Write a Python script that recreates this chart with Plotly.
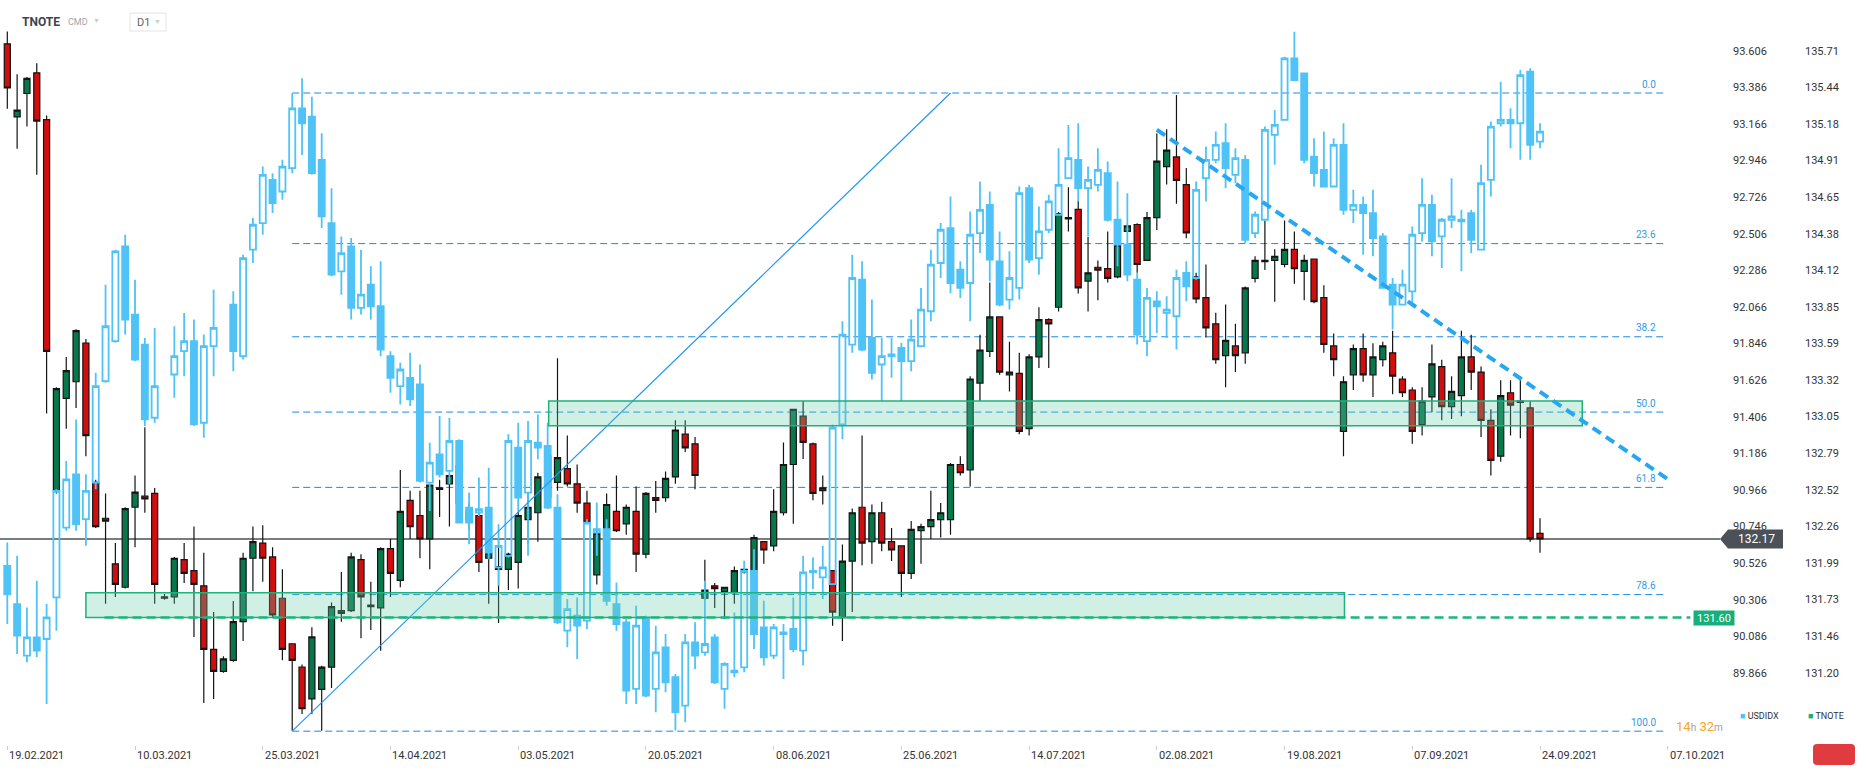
import plotly.graph_objects as go

# ---------------- data ----------------
date_labels = ["19.02.2021", "10.03.2021", "25.03.2021", "14.04.2021", "03.05.2021",
               "20.05.2021", "08.06.2021", "25.06.2021", "14.07.2021", "02.08.2021",
               "19.08.2021", "07.09.2021", "24.09.2021", "07.10.2021"]
date_label_idx = [0, 13, 26, 39, 52, 65, 78, 91, 104, 117, 130, 143, 156, 169]

tnote_open = [135.76, 135.23, 135.40, 135.55, 135.21, 132.52, 133.19, 133.31, 133.59, 132.58,
              132.32, 131.99, 131.82, 132.40, 132.48, 132.50, 131.75, 131.75, 132.02, 131.94,
              131.83, 131.37, 131.21, 131.29, 131.57, 132.03, 132.14, 132.04, 131.74, 131.41,
              131.24, 131.01, 131.08, 131.24, 131.65, 131.65, 132.02, 131.69, 131.67, 132.10,
              131.87, 132.45, 132.34, 132.17, 132.54, 132.57, 132.43, 132.37, 132.34, 132.03,
              131.97, 131.95, 132.00, 132.31, 132.36, 132.47, 132.58, 132.68, 132.57, 132.43,
              131.91, 132.24, 132.37, 132.28, 132.37, 132.06, 132.47, 132.47, 132.62, 132.93,
              132.86, 131.74, 131.83, 131.79, 131.78, 131.95, 131.94, 132.15, 132.12, 132.36,
              132.71, 133.06, 132.86, 132.52, 131.94, 131.60, 132.01, 132.40, 132.15, 132.36,
              132.15, 132.12, 131.92, 132.23, 132.26, 132.31, 132.31, 132.71, 132.67, 133.30,
              133.53, 133.78, 133.36, 133.37, 132.97, 133.49, 133.76, 133.85, 134.50, 134.56,
              134.04, 134.14, 134.13, 134.07, 134.40, 134.45, 134.19, 134.50, 134.87, 134.94,
              134.74, 134.07, 133.92, 133.73, 133.50, 133.57, 133.52, 134.06, 134.19, 134.19,
              134.16, 134.27, 134.11, 134.20, 133.92, 133.57, 132.95, 133.36, 133.55, 133.36,
              133.47, 133.52, 133.33, 133.25, 133.00, 133.20, 133.42, 133.13, 133.21, 133.49,
              133.38, 133.03, 132.77, 133.23, 133.16, 133.12, 132.21]
tnote_high = [135.85, 135.54, 135.52, 135.62, 135.24, 133.27, 133.49, 133.69, 133.62, 132.60,
              132.50, 132.14, 132.40, 132.63, 132.98, 132.54, 131.77, 132.04, 132.14, 132.26,
              132.07, 131.64, 131.32, 131.72, 132.07, 132.26, 132.27, 132.11, 131.95, 131.41,
              131.26, 131.53, 131.25, 131.71, 131.93, 132.07, 132.06, 131.86, 132.11, 132.17,
              132.67, 132.52, 132.52, 132.56, 132.60, 132.64, 132.80, 132.43, 132.37, 132.15,
              132.17, 132.07, 132.37, 132.51, 132.65, 132.82, 133.48, 132.92, 132.71, 132.52,
              132.25, 132.50, 132.63, 132.42, 132.55, 132.51, 132.59, 132.66, 133.03, 133.03,
              132.91, 132.02, 131.85, 131.82, 131.97, 131.96, 132.20, 132.15, 132.53, 132.87,
              133.11, 133.17, 132.87, 132.63, 131.94, 132.13, 132.39, 132.92, 132.42, 132.44,
              132.25, 132.12, 132.30, 132.28, 132.52, 132.43, 132.72, 132.77, 133.35, 133.65,
              134.03, 133.78, 133.60, 133.52, 133.51, 133.85, 133.77, 134.54, 134.72, 134.62,
              134.36, 134.19, 134.40, 134.40, 134.45, 134.46, 134.54, 135.11, 135.14, 135.39,
              134.86, 134.10, 134.16, 133.81, 133.87, 133.73, 134.00, 134.22, 134.48, 134.27,
              134.48, 134.40, 134.23, 134.20, 134.01, 133.66, 133.35, 133.58, 133.66, 133.59,
              133.60, 133.68, 133.35, 133.27, 133.27, 133.58, 133.47, 133.35, 133.68, 133.65,
              133.42, 133.11, 133.32, 133.32, 133.35, 133.17, 132.32]
tnote_low = [135.29, 135.00, 135.16, 134.81, 133.08, 132.50, 132.97, 133.12, 132.77, 132.25,
             131.70, 131.75, 131.81, 132.11, 132.36, 131.70, 131.73, 131.70, 131.85, 131.46,
             130.98, 131.01, 131.20, 131.28, 131.43, 131.79, 131.86, 131.60, 131.29, 130.78,
             130.90, 130.90, 130.78, 131.09, 131.57, 131.64, 131.45, 131.51, 131.36, 131.75,
             131.82, 132.17, 132.03, 131.95, 132.33, 132.26, 132.37, 132.24, 131.93, 131.70,
             131.56, 131.80, 131.81, 132.13, 132.15, 132.42, 132.52, 132.55, 132.36, 132.28,
             131.84, 132.23, 132.22, 132.20, 131.93, 132.03, 132.36, 132.44, 132.57, 132.80,
             132.53, 131.73, 131.67, 131.59, 131.70, 131.92, 131.93, 131.99, 132.08, 132.34,
             132.28, 132.75, 132.45, 132.42, 131.54, 131.43, 131.64, 131.98, 131.99, 132.08,
             132.01, 131.75, 131.88, 131.99, 132.17, 132.18, 132.20, 132.63, 132.55, 133.17,
             133.49, 133.36, 133.24, 132.93, 132.92, 133.41, 133.41, 133.82, 134.40, 133.95,
             133.82, 133.90, 134.03, 134.06, 134.40, 134.10, 134.19, 134.41, 134.74, 134.60,
             134.35, 133.88, 133.63, 133.44, 133.27, 133.38, 133.44, 134.03, 134.12, 133.89,
             134.14, 134.02, 133.90, 133.88, 133.52, 133.35, 132.77, 133.25, 133.31, 133.20,
             133.42, 133.22, 133.20, 132.86, 132.92, 133.09, 133.03, 133.04, 133.06, 133.25,
             132.91, 132.63, 132.73, 132.92, 132.90, 132.15, 132.07]
tnote_close = [135.44, 135.28, 135.51, 135.20, 133.53, 133.26, 133.39, 133.68, 132.92, 132.26,
               132.30, 131.84, 132.39, 132.51, 132.46, 131.84, 131.74, 132.03, 131.92, 131.84,
               131.37, 131.21, 131.30, 131.57, 132.03, 132.15, 132.03, 131.62, 131.37, 131.29,
               130.94, 131.46, 131.24, 131.68, 131.63, 132.04, 131.75, 131.68, 132.10, 131.92,
               132.37, 132.26, 132.17, 132.56, 132.53, 132.63, 132.70, 132.31, 132.00, 132.07,
               131.95, 132.06, 132.34, 132.40, 132.62, 132.77, 132.76, 132.57, 132.43, 132.29,
               132.21, 132.42, 132.23, 132.40, 132.06, 132.50, 132.45, 132.61, 132.96, 132.83,
               132.63, 131.80, 131.81, 131.82, 131.94, 131.93, 132.18, 132.09, 132.37, 132.71,
               133.11, 132.87, 132.50, 132.54, 131.64, 132.01, 132.36, 132.14, 132.36, 132.14,
               132.09, 131.92, 132.24, 132.26, 132.31, 132.36, 132.71, 132.65, 133.33, 133.54,
               133.78, 133.38, 133.38, 132.95, 133.49, 133.76, 133.73, 134.53, 134.49, 133.99,
               134.10, 134.12, 134.06, 134.30, 134.44, 134.16, 134.50, 134.91, 134.99, 134.77,
               134.39, 133.91, 133.70, 133.47, 133.61, 133.50, 133.99, 134.19, 134.18, 134.22,
               134.27, 134.13, 134.19, 133.89, 133.58, 133.47, 133.31, 133.55, 133.36, 133.49,
               133.57, 133.35, 133.23, 132.95, 133.17, 133.44, 133.13, 133.24, 133.49, 133.38,
               133.03, 132.74, 133.21, 133.14, 133.17, 132.17, 132.17]

N = None
usd_open = [90.51, 90.28, 89.97, 90.08, 90.07, 90.32, 90.74, 91.06, 90.79, 91.01,
            91.62, 91.86, 92.43, 92.02, 91.84, 91.40, N, 91.66, 91.80, 91.86,
            91.37, 91.83, N, 92.08, 91.77, 92.41, 92.57, 92.83, 92.76, 92.90,
            93.26, 93.21, 92.95, 92.57, 92.28, 92.43, 92.06, 92.20, 92.07, 91.77,
            91.59, 91.64, 91.60, 91.01, 91.18, 91.08, 91.26, 90.86, 90.83, 90.86,
            90.50, 90.57, 91.22, 90.95, 91.25, 91.23, 90.86, 90.12, 90.21, 90.18,
            90.71, 90.73, 90.28, 90.17, 89.77, 90.20, 89.77, 90.02, 89.84, 89.67,
            90.05, 89.99, 90.08, 89.77, 89.88, 89.90, 90.48, 90.14, 89.97, 90.11,
            90.13, 90.00, 90.47, 90.44, 90.40, 91.36, 91.84, 92.23, 91.88, 91.72,
            91.77, 91.82, 91.74, 91.83, 92.04, 92.33, 92.54, 92.29, 92.21, 92.51,
            92.68, 92.34, 92.11, 92.18, 92.78, 92.36, 92.53, 92.62, 92.84, 92.95,
            92.78, 92.80, 92.87, 92.59, 92.44, 92.23, 91.86, 92.10, 92.03, 92.01,
            92.27, 92.24, 92.84, 92.95, 93.05, 92.86, 92.95, 92.51, 92.59, 93.10,
            93.19, 93.56, 93.47, 92.97, 92.89, 92.79, 93.04, 92.65, 92.68, 92.63,
            92.49, 92.20, 92.08, 92.16, 92.51, 92.68, 92.49, 92.59, 92.59, 92.63,
            92.41, 92.83, 93.17, 93.19, 93.17, 93.48, 93.06]
usd_high = [90.65, 90.57, 90.26, 90.42, 90.28, 90.97, 91.14, 91.39, 91.06, 91.67,
            92.20, 92.41, 92.50, 92.23, 91.88, 91.94, N, 91.95, 92.03, 91.99,
            91.90, 92.17, N, 92.16, 92.38, 92.60, 92.91, 92.87, 92.95, 93.35,
            93.44, 93.33, 93.11, 92.78, 92.49, 92.48, 92.41, 92.31, 92.34, 91.80,
            91.73, 91.79, 91.72, 91.25, 91.41, 91.40, 91.27, 90.95, 91.04, 91.10,
            90.76, 91.30, 91.37, 91.38, 91.42, 91.37, 90.94, 90.31, 90.32, 90.79,
            90.89, 90.79, 90.41, 90.19, 90.27, 90.21, 90.15, 90.10, 89.86, 90.10,
            90.17, 90.42, 90.10, 89.93, 90.23, 90.54, 90.61, 90.30, 90.16, 90.16,
            90.32, 90.57, 90.56, 90.63, 91.36, 91.98, 92.38, 92.34, 92.11, 91.88,
            91.88, 91.85, 91.99, 92.18, 92.41, 92.57, 92.73, 92.34, 92.64, 92.82,
            92.76, 92.52, 92.40, 92.79, 92.80, 92.67, 92.74, 93.02, 93.16, 93.17,
            92.91, 93.02, 92.94, 92.82, 92.75, 92.27, 92.18, 92.16, 92.13, 92.29,
            92.34, 92.82, 93.03, 93.12, 93.17, 93.02, 92.98, 92.64, 93.15, 93.25,
            93.57, 93.72, 93.47, 93.08, 93.12, 93.08, 93.17, 92.77, 92.73, 92.77,
            92.51, 92.24, 92.29, 92.55, 92.84, 92.74, 92.60, 92.84, 92.65, 92.65,
            92.92, 93.18, 93.42, 93.26, 93.49, 93.50, 93.17]
usd_low = [90.16, 89.98, 89.93, 89.96, 89.68, 90.12, 90.72, 90.72, 90.63, 90.97,
           91.61, 91.85, 91.90, 91.74, 91.35, 91.37, N, 91.52, 91.65, 91.35,
           91.28, 91.65, N, 91.68, 91.75, 92.33, 92.50, 92.63, 92.71, 92.87,
           92.98, 92.86, 92.54, 92.25, 92.14, 91.99, 92.02, 91.99, 91.77, 91.55,
           91.48, 91.47, 91.01, 90.84, 91.04, 91.00, 90.77, 90.64, 90.81, 90.55,
           90.39, 90.56, 90.84, 90.57, 91.15, 90.85, 90.16, 90.02, 89.95, 90.13,
           90.57, 90.27, 90.12, 89.68, 89.68, 89.72, 89.63, 89.75, 89.52, 89.57,
           89.89, 89.97, 89.80, 89.65, 89.84, 89.87, 90.01, 89.91, 89.95, 89.83,
           89.99, 89.91, 90.37, 90.31, 90.40, 91.27, 91.79, 91.80, 91.63, 91.50,
           91.64, 91.50, 91.68, 91.83, 91.98, 92.24, 92.15, 92.12, 91.98, 92.39,
           92.22, 92.07, 92.05, 92.11, 92.33, 92.26, 92.51, 92.62, 92.84, 92.70,
           92.49, 92.76, 92.58, 92.31, 92.22, 91.84, 91.77, 91.91, 91.88, 91.81,
           92.10, 92.23, 92.70, 92.93, 92.78, 92.81, 92.45, 92.48, 92.59, 92.92,
           93.19, 93.43, 92.93, 92.79, 92.785, 92.79, 92.62, 92.57, 92.38, 92.37,
           92.18, 91.93, 92.08, 92.09, 92.46, 92.37, 92.30, 92.54, 92.28, 92.39,
           92.41, 92.73, 93.15, 93.02, 92.95, 92.95, 93.02]
usd_close = [90.34, 90.09, 90.08, 90.00, 90.20, 90.96, 91.03, 90.76, 90.96, 91.59,
             91.95, 92.40, 91.99, 91.75, 91.39, 91.59, N, 91.77, 91.86, 91.36,
             91.83, 91.94, N, 91.80, 92.36, 92.56, 92.86, 92.69, 92.91, 93.26,
             93.17, 92.87, 92.61, 92.26, 92.39, 92.06, 92.14, 92.07, 91.81, 91.64,
             91.69, 91.51, 91.02, 91.13, 91.06, 91.26, 90.77, 90.77, 90.85, 90.59,
             90.63, 91.26, 90.92, 91.26, 91.22, 90.86, 90.17, 90.25, 90.15, 90.77,
             90.73, 90.30, 90.16, 89.76, 90.15, 89.73, 89.99, 89.81, 89.63, 90.05,
             89.97, 90.04, 89.81, 89.92, 89.87, 90.48, 90.10, 89.96, 90.14, 90.10,
             90.01, 90.47, 90.48, 90.50, 91.34, 91.90, 92.24, 91.81, 91.67, 91.77,
             91.78, 91.74, 91.87, 92.05, 92.32, 92.53, 92.21, 92.18, 92.50, 92.65,
             92.35, 92.08, 92.24, 92.75, 92.35, 92.52, 92.70, 92.80, 92.96, 92.78,
             92.83, 92.89, 92.59, 92.44, 92.26, 91.90, 92.12, 92.07, 92.05, 92.24,
             92.19, 92.77, 92.95, 93.04, 92.90, 92.96, 92.47, 92.62, 93.13, 93.16,
             93.56, 93.43, 92.95, 92.87, 92.79, 93.04, 92.65, 92.68, 92.63, 92.48,
             92.18, 92.08, 92.20, 92.50, 92.68, 92.46, 92.59, 92.61, 92.58, 92.47,
             92.81, 93.15, 93.19, 93.17, 93.46, 93.04, 93.12]

usd_tick_vals = [89.866, 90.086, 90.306, 90.526, 90.746, 90.966, 91.186, 91.406, 91.626,
                 91.846, 92.066, 92.286, 92.506, 92.726, 92.946, 93.166, 93.386, 93.606]
tnote_tick_text = ["131.20", "131.46", "131.73", "131.99", "132.26", "132.52", "132.79",
                   "133.05", "133.32", "133.59", "133.85", "134.12", "134.38", "134.65",
                   "134.91", "135.18", "135.44", "135.71"]

# Fibonacci retracement (USDIDX scale)
fib_high = 93.352
fib_low = 89.516
fib_levels = [0.0, 23.6, 38.2, 50.0, 61.8, 78.6, 100.0]
fib_start_idx, fib_end_idx = 29, 168.8
fib_diag = dict(x0=29, x1=96)

# Zones / levels (TNOTE scale)
zone_lower = dict(x0=8.0, x1=136.1, y0=131.60, y1=131.78)
zone_upper = dict(x0=55.1, x1=160.3, y0=132.99, y1=133.17)
support_level = 131.60
support_x = (9.9, 171.3)

# Downtrend line (USDIDX scale)
trend = dict(x0=117, y0=93.131, x1=169, y1=91.031)

# ---------------- figure ----------------
W, H = 1866, 770
PLOT_R = 1725
PLOT_B = 745
FONT = "Roboto, Arial, sans-serif"

x = list(range(len(tnote_open)))
ux = [i for i in x if usd_open[i] is not None]

fig = go.Figure()
fig.add_trace(go.Candlestick(
    x=x, open=tnote_open, high=tnote_high, low=tnote_low, close=tnote_close,
    yaxis="y", name="TNOTE", whiskerwidth=0, hoverinfo="skip",
    increasing=dict(line=dict(color="#141414", width=1.2), fillcolor="#06784b"),
    decreasing=dict(line=dict(color="#141414", width=1.2), fillcolor="#d10d0d"),
))
fig.add_trace(go.Candlestick(
    x=ux, open=[usd_open[i] for i in ux], high=[usd_high[i] for i in ux],
    low=[usd_low[i] for i in ux], close=[usd_close[i] for i in ux],
    yaxis="y2", name="USDIDX", whiskerwidth=0, hoverinfo="skip",
    increasing=dict(line=dict(color="#4fc3f7", width=1.8), fillcolor="rgba(255,255,255,0)"),
    decreasing=dict(line=dict(color="#4fc3f7", width=1.8), fillcolor="#4fc3f7"),
))

# axis ranges (pixel-aligned)
t_top, t_slope = 136.078, 0.007251
u_top, u_slope = 93.911, 0.006011
t_range = [t_top - PLOT_B * t_slope, t_top]
u_range = [u_top - PLOT_B * u_slope, u_top]
t_tick_vals = [131.20 + k * (135.71 - 131.20) / 17 for k in range(18)]
x_step = 9.825
x0_px = 7.3
x_range = [-x0_px / x_step, (PLOT_R - x0_px) / x_step]

tickfont = dict(family=FONT, size=11, color="#333333")
fig.update_layout(
    width=W, height=H, margin=dict(l=0, r=0, t=0, b=0),
    paper_bgcolor="white", plot_bgcolor="white", showlegend=False,
    boxgap=0.38, boxgroupgap=0,
    xaxis=dict(domain=[0, PLOT_R / W], range=x_range, showgrid=False, zeroline=False,
               rangeslider=dict(visible=False), tickvals=date_label_idx,
               showticklabels=False, ticks="outside", ticklen=4, tickcolor="#cfcfcf",
               showline=False, fixedrange=True),
    yaxis=dict(domain=[1 - PLOT_B / H, 1], range=t_range, side="right", anchor="free",
               position=1804 / W, tickvals=t_tick_vals, ticktext=tnote_tick_text,
               showgrid=False, zeroline=False, showline=False, ticks="",
               tickfont=tickfont, fixedrange=True),
    yaxis2=dict(overlaying="y", side="right", anchor="x", range=u_range,
                tickvals=usd_tick_vals, ticktext=[f"{v:.3f}" for v in usd_tick_vals],
                showgrid=False, zeroline=False, showline=False, ticks="",
                ticklabelstandoff=7, tickfont=tickfont, fixedrange=True),
)

shapes = []
# current price line
last_close = tnote_close[-1]
shapes.append(dict(type="line", xref="paper", yref="y", x0=0, x1=1720 / W,
                   y0=last_close, y1=last_close, line=dict(color="#4d5258", width=1.5),
                   layer="below"))
# fib lines
for lv in fib_levels:
    p = fib_high - lv / 100 * (fib_high - fib_low)
    shapes.append(dict(type="line", xref="x", yref="y2", x0=fib_start_idx, x1=fib_end_idx,
                       y0=p, y1=p, line=dict(color="#1e88e5", width=1, dash="7px,4px"),
                       layer="below"))
# fib diagonal
shapes.append(dict(type="line", xref="x", yref="y2", x0=fib_diag["x0"], y0=fib_low,
                   x1=fib_diag["x1"], y1=fib_high, line=dict(color="#2196f3", width=1.2),
                   layer="above"))
# zones
for z in (zone_lower, zone_upper):
    shapes.append(dict(type="rect", xref="x", yref="y", x0=z["x0"], x1=z["x1"],
                       y0=z["y0"], y1=z["y1"], fillcolor="rgba(100,205,170,0.30)",
                       line=dict(color="#1fb07c", width=1.5), layer="above"))
# support dashed line
shapes.append(dict(type="line", xref="x", yref="y", x0=support_x[0], x1=support_x[1],
                   y0=support_level, y1=support_level,
                   line=dict(color="#1fb47e", width=2.5, dash="9px,5px"), layer="above"))
# downtrend
shapes.append(dict(type="line", xref="x", yref="y2", x0=trend["x0"], y0=trend["y0"],
                   x1=trend["x1"], y1=trend["y1"],
                   line=dict(color="#27a7ef", width=4, dash="10px,6px"), layer="above"))
# price tag arrow box
shapes.append(dict(type="path", xref="paper", yref="y", xsizemode="pixel", ysizemode="pixel",
                   xanchor=1720 / W, yanchor=last_close,
                   path="M 0 0 L 8 9.5 L 63 9.5 L 63 -9.5 L 8 -9.5 Z",
                   fillcolor="#4b5157", line=dict(width=0), layer="above"))
# header D1 box
shapes.append(dict(type="rect", xref="paper", yref="paper", x0=130 / W, x1=166 / W,
                   y0=1 - 31 / H, y1=1 - 13 / H, line=dict(color="#e2e4e7", width=1),
                   fillcolor="white", layer="above"))
# red rounded button bottom-right
rx, ry = 4 / W, 4 / H
bx0, bx1, by0, by1 = 1813 / W, 1855 / W, (H - 765) / H, (H - 744) / H
shapes.append(dict(type="path", xref="paper", yref="paper",
                   path=(f"M {bx0+rx} {by0} L {bx1-rx} {by0} Q {bx1} {by0} {bx1} {by0+ry} "
                         f"L {bx1} {by1-ry} Q {bx1} {by1} {bx1-rx} {by1} L {bx0+rx} {by1} "
                         f"Q {bx0} {by1} {bx0} {by1-ry} L {bx0} {by0+ry} Q {bx0} {by0} {bx0+rx} {by0} Z"),
                   fillcolor="#e03b3e", line=dict(width=0), layer="above"))
fig.update_layout(shapes=shapes)

ann = []
# date labels
for idx, lab in zip(date_label_idx, date_labels):
    ann.append(dict(x=idx, y=(H - 755) / H, xref="x", yref="paper", text=lab,
                    showarrow=False, xanchor="left", yanchor="middle", xshift=0,
                    font=dict(family=FONT, size=11, color="#333333")))
# fib labels
for lv in fib_levels:
    p = fib_high - lv / 100 * (fib_high - fib_low)
    ann.append(dict(x=168.0, y=p, xref="x", yref="y2", text=f"{lv:.1f}", showarrow=False,
                    xanchor="right", yanchor="middle", yshift=9,
                    font=dict(family=FONT, size=10, color="#2f9be6")))
# price tag text
ann.append(dict(x=1756 / W, y=last_close, xref="paper", yref="y", text=f"{last_close:.2f}",
                showarrow=False, xanchor="center", yanchor="middle",
                font=dict(family=FONT, size=12, color="white")))
# support tag
ann.append(dict(x=1713.5 / W, y=support_level, xref="paper", yref="y",
                text=f"{support_level:.2f}", showarrow=False, xanchor="center",
                yanchor="middle", bgcolor="#17b07a", width=38, height=12, borderpad=1,
                font=dict(family=FONT, size=11, color="white")))
# header
ann.append(dict(x=20 / W, y=1 - 22 / H, xref="paper", yref="paper", text="<b>TNOTE</b>",
                showarrow=False, xanchor="left", yanchor="middle",
                font=dict(family=FONT, size=12, color="#3c4350")))
ann.append(dict(x=66 / W, y=1 - 22 / H, xref="paper", yref="paper", text="CMD",
                showarrow=False, xanchor="left", yanchor="middle",
                font=dict(family=FONT, size=9, color="#a0a6ad")))
ann.append(dict(x=91 / W, y=1 - 21 / H, xref="paper", yref="paper", text="▼",
                showarrow=False, xanchor="left", yanchor="middle",
                font=dict(family=FONT, size=7, color="#c9cdd2")))
ann.append(dict(x=135 / W, y=1 - 22 / H, xref="paper", yref="paper", text="D1",
                showarrow=False, xanchor="left", yanchor="middle",
                font=dict(family=FONT, size=11, color="#5f6368")))
ann.append(dict(x=152 / W, y=1 - 22 / H, xref="paper", yref="paper", text="▼",
                showarrow=False, xanchor="left", yanchor="middle",
                font=dict(family=FONT, size=7, color="#c9cdd2")))
# timer
ann.append(dict(x=1674 / W, y=(H - 726) / H, xref="paper", yref="paper",
                text=("<span style='color:#f5a623'>14</span><span style='font-size:10px;color:#9e9e9e'>h</span> "
                      "<span style='color:#f5a623'>32</span><span style='font-size:10px;color:#9e9e9e'>m</span>"),
                showarrow=False, xanchor="left", yanchor="middle",
                font=dict(family=FONT, size=13, color="#f5a623")))
# legend
ann.append(dict(x=1738 / W, y=(H - 716) / H, xref="paper", yref="paper",
                text="<span style='color:#4fc3f7'>■</span> USDIDX", showarrow=False,
                xanchor="left", yanchor="middle", font=dict(family=FONT, size=9, color="#333")))
ann.append(dict(x=1806 / W, y=(H - 716) / H, xref="paper", yref="paper",
                text="<span style='color:#17b07a'>■</span> TNOTE", showarrow=False,
                xanchor="left", yanchor="middle", font=dict(family=FONT, size=9, color="#333")))
fig.update_layout(annotations=ann)

fig.write_html("out.html", config={"displayModeBar": False},
               post_script="document.body.style.margin='0px';document.body.style.overflow='hidden';")
